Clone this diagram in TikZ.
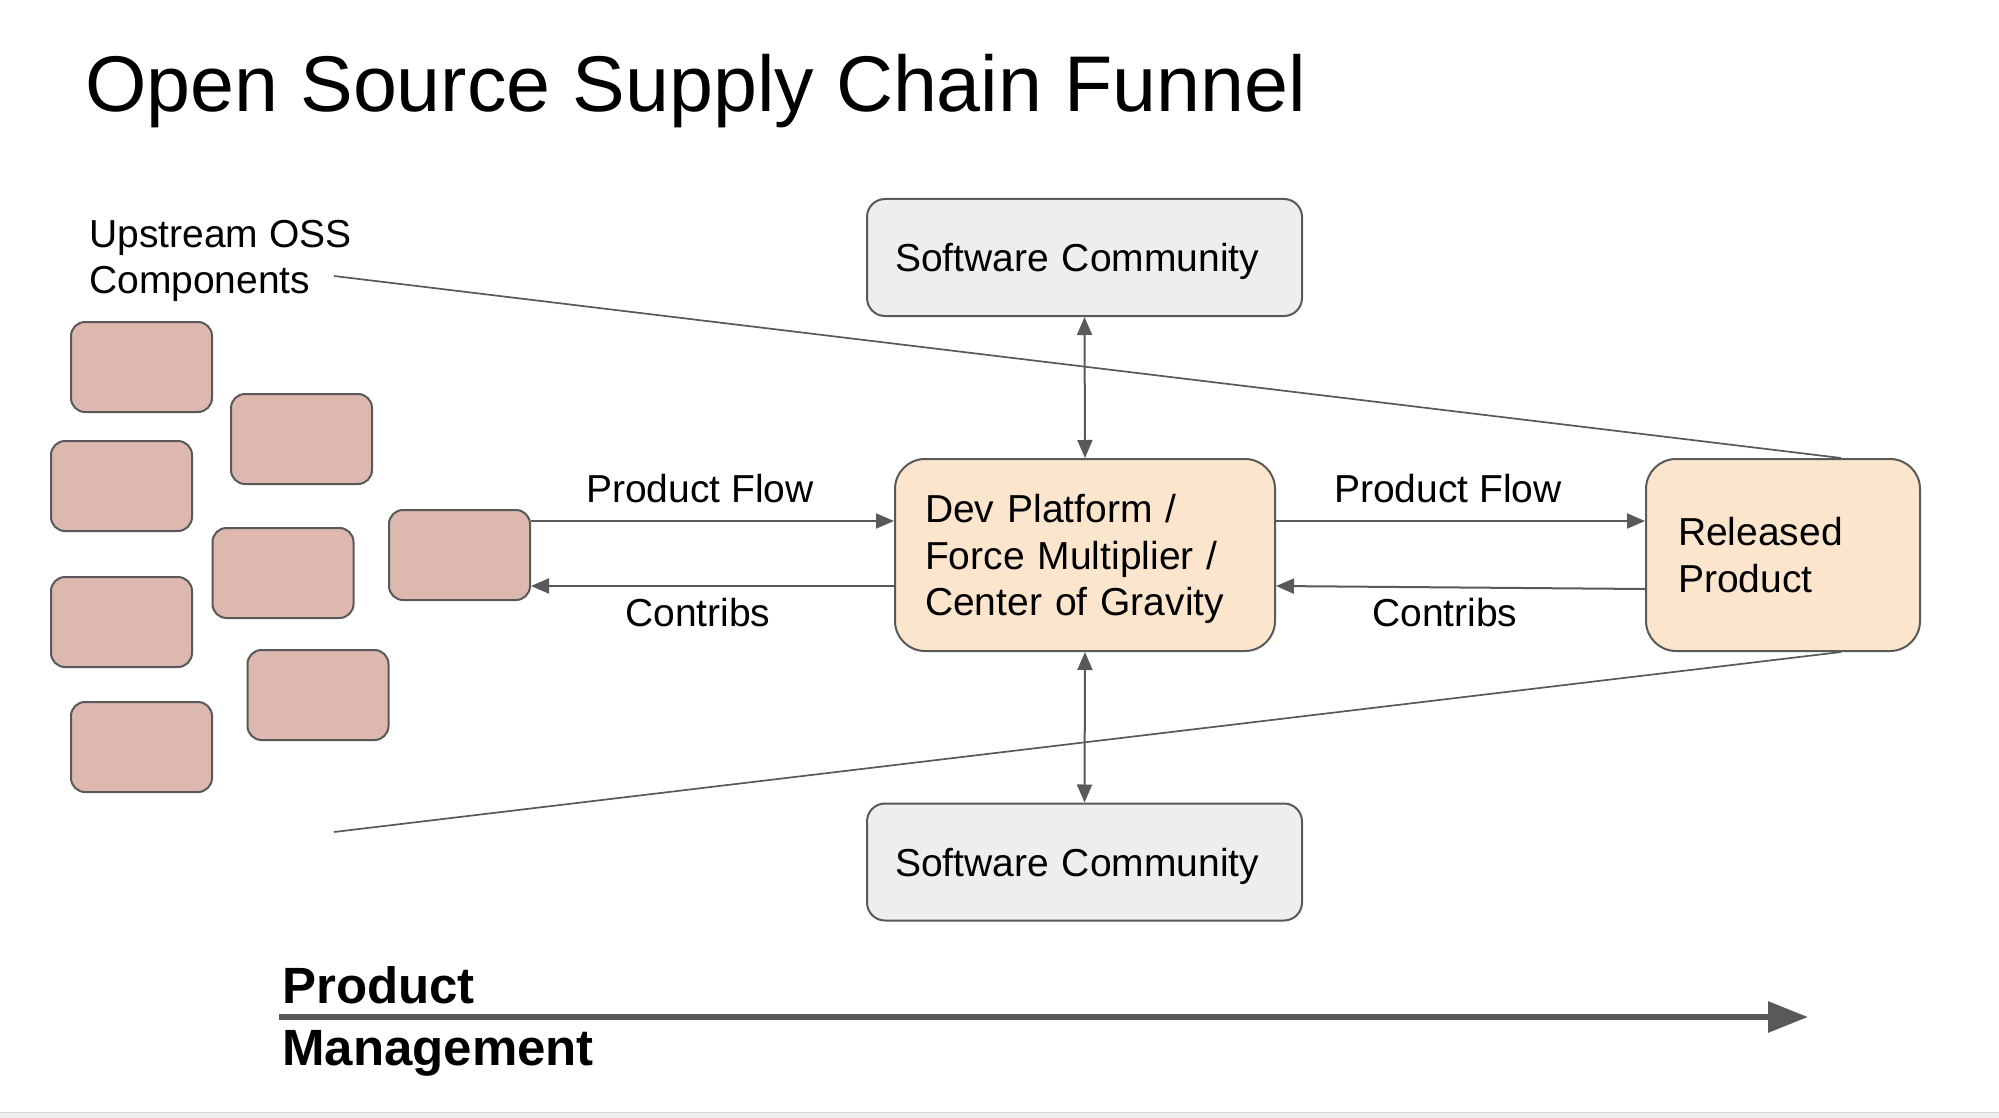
\documentclass[tikz,border=0pt]{standalone}
\usepackage{fontspec}
\setmainfont{Liberation Sans}
\usetikzlibrary{arrows.meta,calc}
\definecolor{pinkfill}{HTML}{DDB8AF}
\definecolor{peachfill}{HTML}{FCE5CD}
\definecolor{grayfill}{HTML}{EEEEEE}
\definecolor{edge}{HTML}{595959}
\definecolor{bandfill}{HTML}{F0F0F0}
\definecolor{bandline}{HTML}{D6D6D6}
\tikzset{
  basebox/.style={draw=edge, line width=2pt, inner sep=0pt,
    font=\fontsize{39}{46.5}\selectfont},
  comp/.style={basebox, fill=pinkfill, rounded corners=14pt,
    minimum width=141pt, minimum height=90pt},
  scbox/.style={basebox, fill=grayfill, rounded corners=18pt, text depth=0pt,
    minimum width=435pt, minimum height=117pt, inner xsep=28pt,
    text width=379pt, align=left},
  devbox/.style={basebox, fill=peachfill, rounded corners=30pt, text depth=93pt,
    minimum width=380pt, minimum height=192pt, inner xsep=30pt,
    text width=320pt, align=left},
  relbox/.style={basebox, fill=peachfill, rounded corners=30pt,
    minimum width=274pt, minimum height=192pt, inner xsep=32pt,
    text width=210pt, align=left},
  lbl/.style={inner sep=0pt, font=\fontsize{39}{46.5}\selectfont},
  conn/.style={draw=edge, line width=2pt, -{Triangle[length=18pt,width=15pt]}},
  dconn/.style={draw=edge, line width=2pt,
    {Triangle[length=18pt,width=15pt]}-{Triangle[length=18pt,width=15pt]}},
  funnel/.style={draw=edge, line width=1.7pt},
  pmarrow/.style={draw=edge, line width=6pt, -{Triangle[length=40pt,width=30pt]}}
}
\begin{document}
\begin{tikzpicture}[x=1pt,y=-1pt]
\useasboundingbox (0,0) rectangle (1999,1118);
\fill[white] (0,0) rectangle (1999,1118);
\fill[bandfill] (0,1112) rectangle (1999,1118);
\draw[bandline, line width=1.5pt] (0,1112.5) -- (1999,1112.5);

% title
\node[anchor=base west, inner sep=0pt, font=\fontsize{79}{90}\selectfont] (title) at (85,112) {Open Source Supply Chain Funnel};

% upstream label
\node[anchor=north west, inner sep=0pt, align=left, font=\fontsize{39}{46.2}\selectfont] (upl) at (89,220) {Upstream OSS\\Components};

% funnel lines
\coordinate (ftop) at (334,276);
\coordinate (fbot) at (334,832);

% components
\node[comp] (c1) at (141.5,367) {};
\node[comp] (c2) at (301.5,439) {};
\node[comp] (c3) at (121.5,486) {};
\node[comp] (c4) at (283,573) {};
\node[comp] (c5) at (459.5,555) {};
\node[comp] (c6) at (121.5,622) {};
\node[comp] (c7) at (318,695) {};
\node[comp] (c8) at (141.5,747) {};

% main boxes
\node[scbox] (sctop) at (1084.5,257.5) {Software Community};
\node[scbox] (scbot) at (1084.5,862) {Software Community};
\node[devbox] (dev) at (1085,555) {Dev Platform /\\Force Multiplier /\\Center of Gravity};
\node[relbox] (rp) at (1783,555) {Released\\Product};

% funnel
\draw[funnel] (ftop) -- ($(rp.north)+(58,0)$);
\draw[funnel] (fbot) -- ($(rp.south)+(58,0)$);

% flows
\draw[conn] ($(c5.east)+(0,-34)$) -- ($(dev.west)+(0,-34)$);
\draw[conn] ($(dev.west)+(0,31)$) -- ($(c5.east)+(0,31)$);
\draw[conn] ($(dev.east)+(0,-34)$) -- ($(rp.west)+(0,-34)$);
\draw[conn] ($(rp.west)+(0,34)$) -- ($(dev.east)+(0,31)$);
\draw[dconn] (sctop.south) -- (dev.north);
\draw[dconn] (dev.south) -- (scbot.north);

% labels
\node[lbl, anchor=base west] (pf1) at (586,502) {Product Flow};
\node[lbl, anchor=base west] (cb1) at (625,626) {Contribs};
\node[lbl, anchor=base west] (pf2) at (1334,502) {Product Flow};
\node[lbl, anchor=base west] (cb2) at (1372,626) {Contribs};

% product management
\node[anchor=north west, inner sep=0pt, align=left, font=\fontsize{51}{62}\selectfont\bfseries] (pm) at (282,966) {Product\\Management};
\coordinate (pms) at (279,1017);
\coordinate (pme) at (1808,1017);
\draw[pmarrow] (pms) -- (pme);
\end{tikzpicture}
\end{document}
